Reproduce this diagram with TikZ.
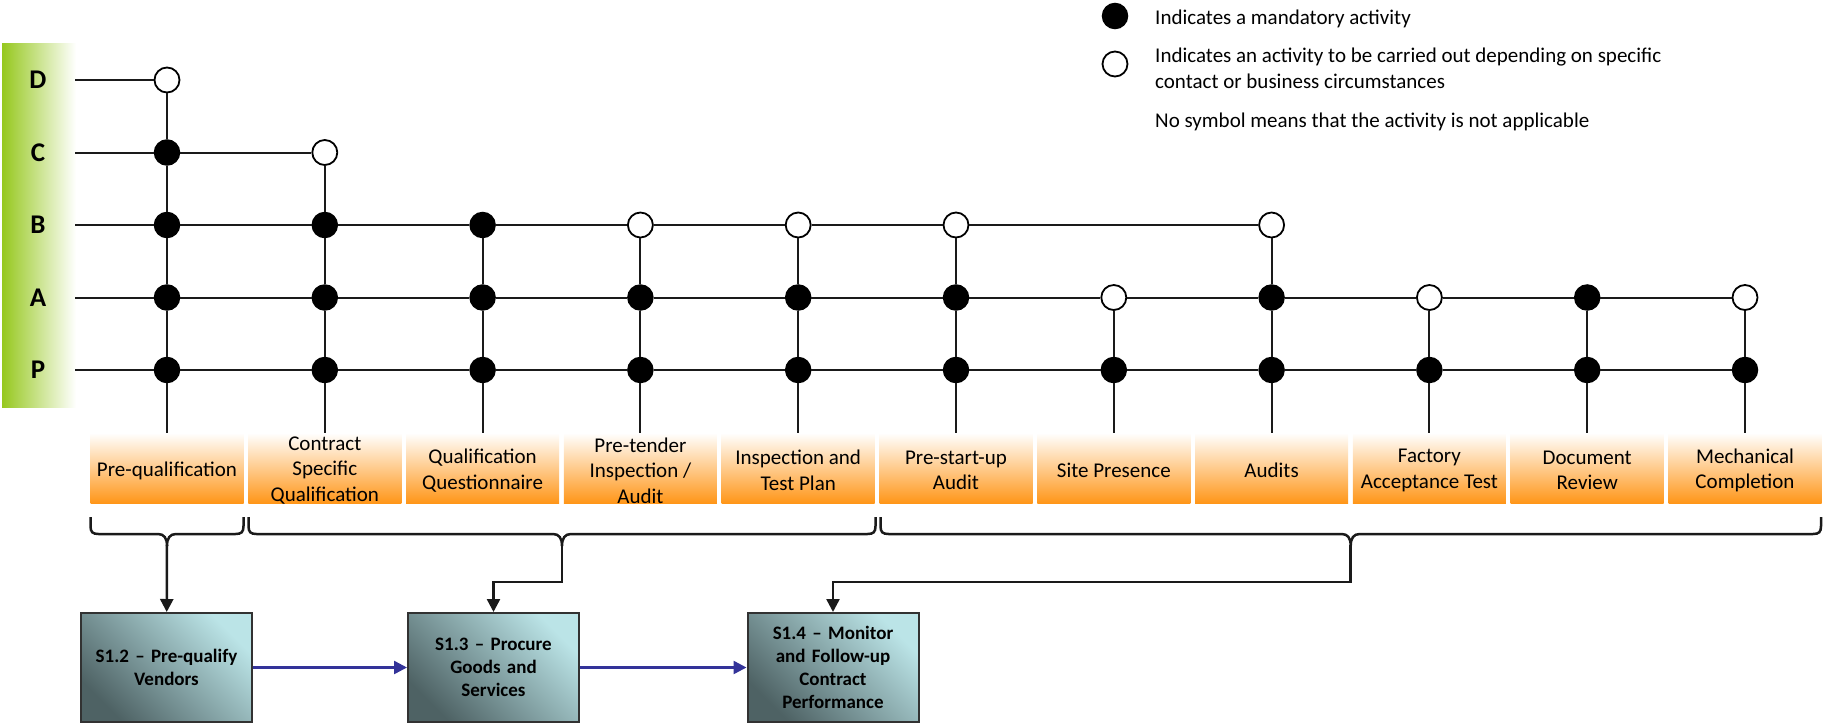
\documentclass[tikz,border=0pt]{standalone}
\usepackage{fontspec}
\setmainfont{Carlito}
\usetikzlibrary{arrows.meta,calc}
\definecolor{gridc}{RGB}{26,26,26}
\definecolor{orangeb}{RGB}{255,150,25}
\definecolor{tealdark}{RGB}{78,98,100}
\definecolor{teallight}{RGB}{187,228,231}
\definecolor{bluearr}{RGB}{51,51,153}
\definecolor{greenbar}{RGB}{150,200,30}
\definecolor{boxborder}{RGB}{50,50,50}
\begin{document}
\begin{tikzpicture}[x=1pt,y=-1pt,
  gline/.style={line width=2pt, draw=gridc},
  full/.style={circle, fill=black, draw=black, line width=1.5pt, minimum size=25pt, inner sep=0pt},
  open/.style={circle, fill=white, draw=black, line width=1.8pt, minimum size=25pt, inner sep=0pt},
  act/.style={minimum width=153pt, minimum height=70pt, inner sep=0pt, top color=white, bottom color=orangeb},
  acttext/.style={inner sep=0pt, align=center, font=\fontsize{21}{25.5}\selectfont},
  proc/.style={minimum width=171pt, minimum height=109pt, inner sep=0pt, draw=boxborder, line width=2pt, bottom color=tealdark, top color=teallight, shading angle=-45, align=center, text width=160pt, font=\bfseries\fontsize{19}{23}\selectfont},
  rowlab/.style={font=\bfseries\fontsize{27}{30}\selectfont, inner sep=0pt},
  legtext/.style={anchor=west, inner sep=0pt, align=left, font=\fontsize{21}{26}\selectfont},
  brace/.style={line width=2.5pt, draw=gridc},
  blkarrow/.style={line width=2.5pt, draw=gridc, -{Triangle[length=13pt,width=13pt]}},
  bluearrow/.style={line width=2.5pt, draw=bluearr, -{Triangle[length=13pt,width=13pt]}}
]
\useasboundingbox (0,0) rectangle (1823,723);

% green bar
\shade[left color=greenbar, right color=white] (2,43) rectangle (76,407);

% row labels and line starts
\def\yrowD{80}\def\yrowC{152.5}\def\yrowB{225}\def\yrowA{297.5}\def\yrowP{370}
\foreach \r in {D,C,B,A,P}{
  \node[rowlab] (l\r) at (38,\csname yrow\r\endcsname) {\r};
  \coordinate (s\r) at (75,\csname yrow\r\endcsname);
}

% activity boxes
\foreach \c/\txt in {1/{Pre-qualification},2/{Contract\\Specific\\Qualification},3/{Qualification\\Questionnaire},4/{Pre-tender\\Inspection /\\Audit},5/{Inspection and\\Test Plan},6/{Pre-start-up\\Audit},7/{Site Presence},8/{Audits},9/{Factory\\Acceptance Test},10/{Document\\Review},11/{Mechanical\\Completion}}{
  \pgfmathsetmacro\cx{167+157.8*(\c-1)}
  \node[act] (act\c) at (\cx,468) {};
  \node[acttext] (actt\c) at (\cx,470.5) {\txt};
}

% circles
\foreach \c/\spec in {1/{D/open,C/full,B/full,A/full,P/full},
                      2/{C/open,B/full,A/full,P/full},
                      3/{B/full,A/full,P/full},
                      4/{B/open,A/full,P/full},
                      5/{B/open,A/full,P/full},
                      6/{B/open,A/full,P/full},
                      7/{A/open,P/full},
                      8/{B/open,A/full,P/full},
                      9/{A/open,P/full},
                      10/{A/full,P/full},
                      11/{A/open,P/full}}{
  \pgfmathsetmacro\cx{167+157.8*(\c-1)}
  \foreach \r/\t in \spec {
    \node[\t] (\r\c) at (\cx,\csname yrow\r\endcsname) {};
  }
}

% horizontal lines
\draw[gline] (sD) -- (D1);
\draw[gline] (sC) -- (C1) -- (C2);
\draw[gline] (sB) -- (B1) -- (B2) -- (B3) -- (B4) -- (B5) -- (B6) -- (B8);
\draw[gline] (sA) -- (A1) -- (A2) -- (A3) -- (A4) -- (A5) -- (A6) -- (A7) -- (A8) -- (A9) -- (A10) -- (A11);
\draw[gline] (sP) -- (P1) -- (P2) -- (P3) -- (P4) -- (P5) -- (P6) -- (P7) -- (P8) -- (P9) -- (P10) -- (P11);

% vertical lines
\draw[gline] (D1) -- (C1) -- (B1) -- (A1) -- (P1) -- (act1);
\draw[gline] (C2) -- (B2) -- (A2) -- (P2) -- (act2);
\draw[gline] (B3) -- (A3) -- (P3) -- (act3);
\draw[gline] (B4) -- (A4) -- (P4) -- (act4);
\draw[gline] (B5) -- (A5) -- (P5) -- (act5);
\draw[gline] (B6) -- (A6) -- (P6) -- (act6);
\draw[gline] (A7) -- (P7) -- (act7);
\draw[gline] (B8) -- (A8) -- (P8) -- (act8);
\draw[gline] (A9) -- (P9) -- (act9);
\draw[gline] (A10) -- (P10) -- (act10);
\draw[gline] (A11) -- (P11) -- (act11);

% braces
\foreach \xa/\xb/\xc/\n in {90.5/243.5/167/1, 248.5/875.5/562/2, 880.5/1821/1350.7/3}{
  \draw[brace] (\xa,517) -- (\xa,526) .. controls (\xa,532) and (\xa+2,534) .. (\xa+8,534)
     -- (\xc-9,534) .. controls (\xc-3,534) and (\xc,538) .. (\xc,546)
     .. controls (\xc,538) and (\xc+3,534) .. (\xc+9,534)
     -- (\xb-8,534) .. controls (\xb-2,534) and (\xb,532) .. (\xb,526) -- (\xb,517);
  \coordinate (tip\n) at (\xc,545);
}

% process boxes
\node[proc] (s12) at (166.5,667.5) {S1.2 -- Pre-qualify\\Vendors};
\node[proc] (s13) at (493.5,667.5) {S1.3 -- Procure\\Goods and\\Services};
\node[proc] (s14) at (833,667.5) {S1.4 -- Monitor\\and Follow-up\\Contract\\Performance};

% arrows from braces
\coordinate (j2) at (562,582);
\coordinate (j3) at (1350.7,582);
\draw[blkarrow] (tip1) -- (s12);
\draw[blkarrow] (tip2) -- (j2) -| (s13.north);
\draw[blkarrow] (tip3) -- (j3) -| (s14.north);

% blue arrows
\draw[bluearrow] (s12) -- (s13);
\draw[bluearrow] (s13) -- (s14);

% legend
\node[full] (legf) at (1115,16) {};
\node[open] (lego) at (1115,64) {};
\node[legtext] (legt1) at (1155,19) {Indicates a mandatory activity};
\node[legtext] (legt2) at (1155,68) {Indicates an activity to be carried out depending on specific\\contact or business circumstances};
\node[legtext] (legt3) at (1155,122) {No symbol means that the activity is not applicable};
\end{tikzpicture}
\end{document}
